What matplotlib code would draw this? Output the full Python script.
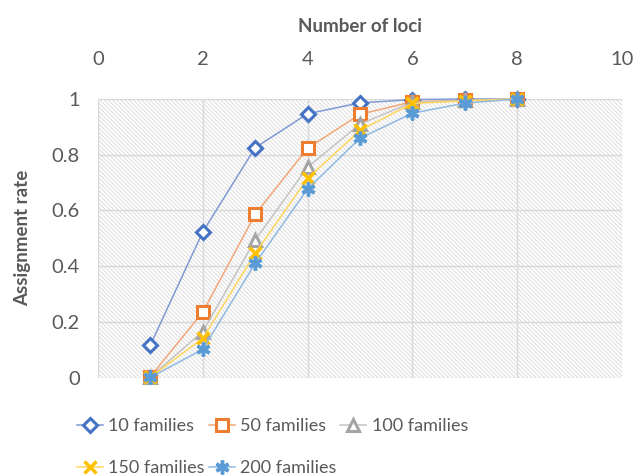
import matplotlib
matplotlib.use("Agg")
import matplotlib.pyplot as plt
from matplotlib.patches import Rectangle

# Assignment rate vs number of loci for different numbers of families
loci = [1, 2, 3, 4, 5, 6, 7, 8]
fam_10 = [0.117, 0.523, 0.825, 0.947, 0.986, 0.998, 1.0, 1.0]
fam_50 = [0.004, 0.235, 0.586, 0.823, 0.945, 0.990, 0.995, 1.0]
fam_100 = [0.003, 0.165, 0.494, 0.755, 0.910, 0.988, 0.995, 1.0]
fam_150 = [0.002, 0.141, 0.446, 0.715, 0.887, 0.984, 0.993, 1.0]
fam_200 = [0.001, 0.102, 0.410, 0.677, 0.859, 0.949, 0.985, 1.0]
series_labels = ["10 families", "50 families", "100 families",
                 "150 families", "200 families"]
x_ticks = [0, 2, 4, 6, 8, 10]
y_ticks = [0, 0.2, 0.4, 0.6, 0.8, 1.0]
y_tick_labels = ["0", "0.2", "0.4", "0.6", "0.8", "1"]

plt.rcParams["font.family"] = ["Lato", "DejaVu Sans"]
plt.rcParams["hatch.linewidth"] = 0.6

text_color = "#595959"
grid_color = "#d9d9d9"

fig = plt.figure(figsize=(6.35, 4.75), dpi=100)
ax = fig.add_axes([0.1543, 0.2048, 0.825, 0.5868])

# hatched plot-area background
ax.add_patch(Rectangle((0, 0), 1, 1, transform=ax.transAxes,
                       facecolor="white", edgecolor="#d8d8d8",
                       hatch="\\" * 8, lw=0, zorder=0.1))

styles = [
    (fam_10, "#4472C4", "#7f9bd3", "D", 7.5, "white", 2.2),
    (fam_50, "#ED7D31", "#f2a77a", "s", 9.0, "white", 2.2),
    (fam_100, "#A5A5A5", "#c4c4c4", "^", 8.5, "white", 2.2),
    (fam_150, "#FFC000", "#ffd65c", "x", 8.5, "none", 2.5),
    (fam_200, "#5B9BD5", "#8fb9e3", (6, 2, 0), 10, "none", 2.5),
]

handles = []
for (vals, mcol, lcol, mk, ms, mfc, mew), lab in zip(styles, series_labels):
    h, = ax.plot(loci, vals, color=lcol, lw=1.1, marker=mk, ms=ms,
                 mec=mcol, mfc=mfc, mew=mew, label=lab, clip_on=False,
                 zorder=3)
    handles.append(h)

ax.set_xlim(0, 10)
ax.set_ylim(0, 1)
ax.set_xticks(x_ticks)
ax.set_yticks(y_ticks)
ax.set_yticklabels(y_tick_labels)
ax.xaxis.tick_top()
ax.xaxis.set_label_position("top")
ax.tick_params(axis="both", length=0, labelsize=14.5, colors=text_color)
ax.tick_params(axis="x", pad=22)
ax.tick_params(axis="y", pad=13)
for sp in ax.spines.values():
    sp.set_visible(False)
ax.set_axisbelow(True)
ax.grid(True, color=grid_color, lw=1.0, zorder=0.5)

ax.set_xlabel("Number of loci", fontsize=13.5, fontweight="bold",
              color=text_color, labelpad=14)
ax.set_ylabel("Assignment rate", fontsize=13.5, fontweight="bold",
              color=text_color, labelpad=15)

order = [0, 3, 1, 4, 2]
leg = fig.legend([handles[i] for i in order],
                 [series_labels[i] for i in order],
                 loc="upper left", bbox_to_anchor=(0.121, 0.12),
                 ncol=3, frameon=False, fontsize=13, handlelength=1.45,
                 handletextpad=0.3, columnspacing=0.2, labelspacing=1.45,
                 borderpad=0, borderaxespad=0)
for t in leg.get_texts():
    t.set_color(text_color)

fig.savefig("out.png", dpi=100)
